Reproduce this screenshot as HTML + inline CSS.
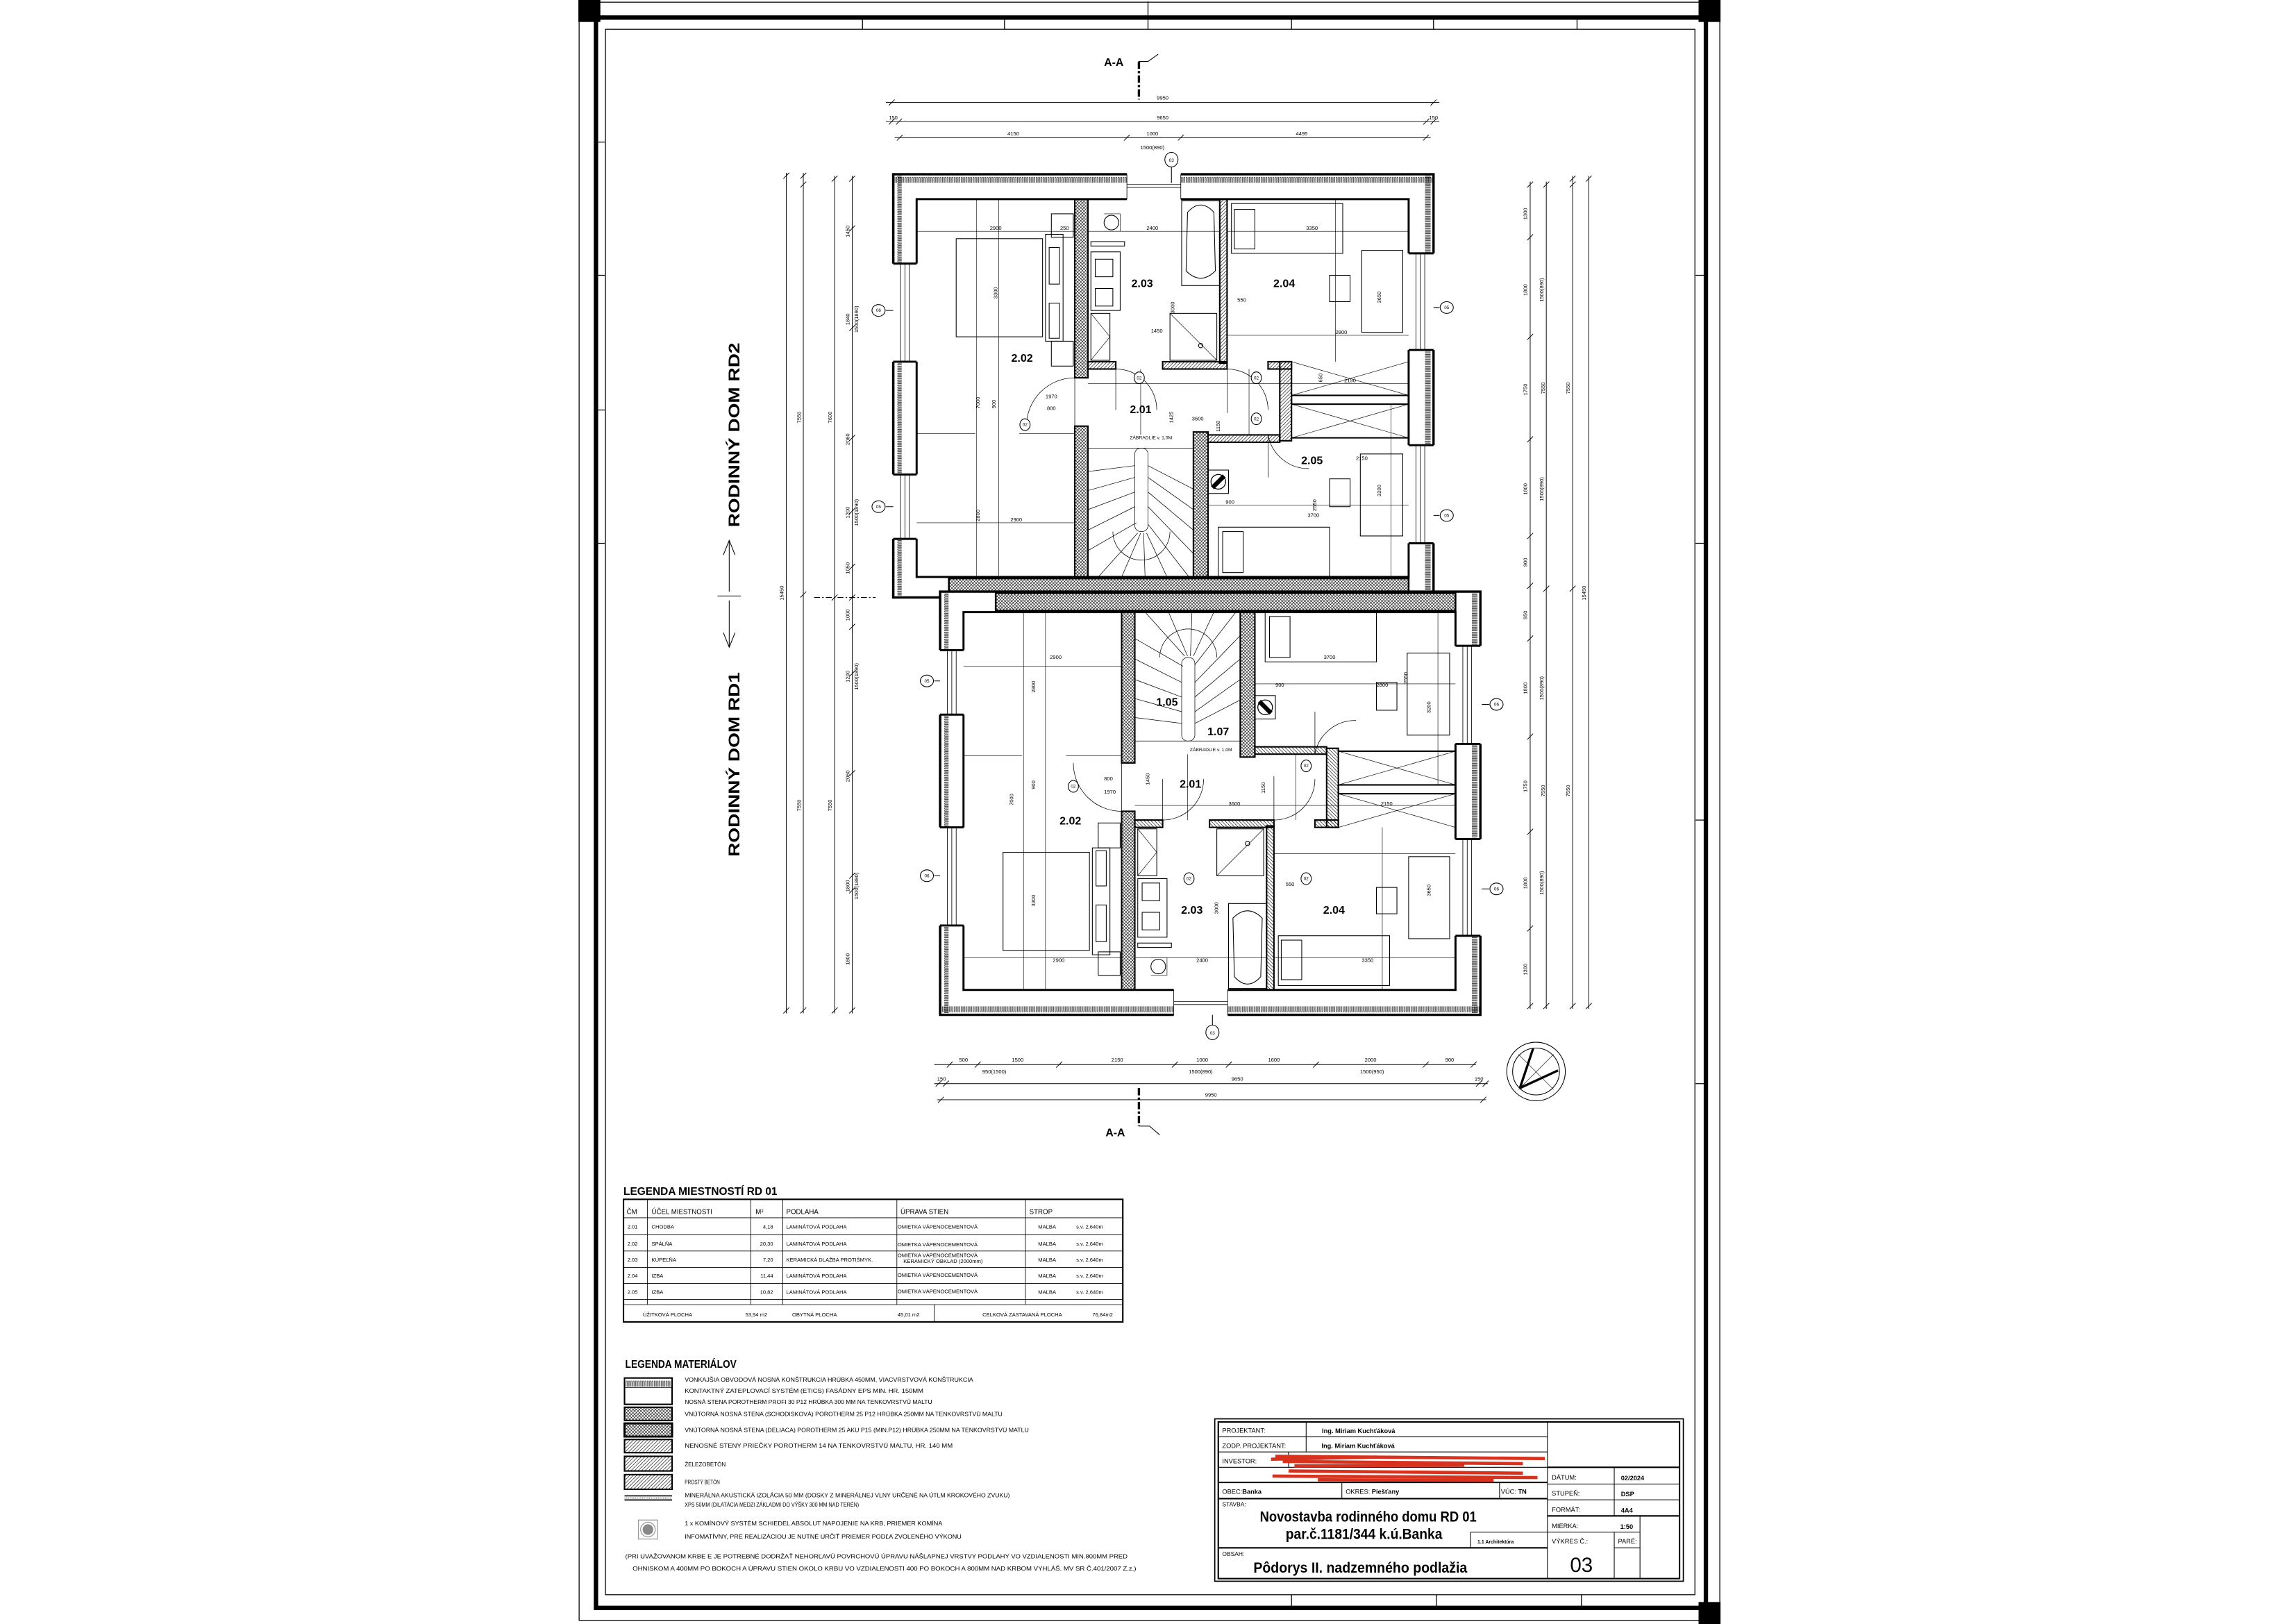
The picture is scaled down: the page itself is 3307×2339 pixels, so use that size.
<!DOCTYPE html>
<html><head><meta charset="utf-8"><style>
html,body{margin:0;padding:0;background:#fff}
svg{display:block}
text{font-family:"Liberation Sans",sans-serif;fill:#000}
.d{font-size:3.6px}
.r{font-size:7.6px;font-weight:bold}
.t{font-size:4.2px}
.tb{font-size:4.6px;font-weight:bold}
</style></head><body>
<svg width="3307" height="2339" viewBox="0 0 1568 1109" preserveAspectRatio="none" xmlns="http://www.w3.org/2000/svg">
<defs>
<pattern id="x" width="2.2" height="2.2" patternUnits="userSpaceOnUse"><path d="M0 0L2.2 2.2M2.2 0L0 2.2" stroke="#000" stroke-width=".3"/></pattern>
<pattern id="dg" width="2.4" height="2.4" patternUnits="userSpaceOnUse"><path d="M0 2.4L2.4 0" stroke="#000" stroke-width=".3"/></pattern>
<pattern id="wh" width="1.6" height="6" patternUnits="userSpaceOnUse"><path d="M.4 5V1.4A.4 .4 0 0 1 1.2 1.4V5" fill="none" stroke="#000" stroke-width=".3"/></pattern>
<pattern id="wv" width="6" height="1.6" patternUnits="userSpaceOnUse"><path d="M5 .4H1.4A.4 .4 0 0 0 1.4 1.2H5" fill="none" stroke="#000" stroke-width=".3"/></pattern>
<g id="p" fill="none" stroke="#000">
 <!-- outer wall -->
 <rect x="610" y="119" width="369" height="289" fill="#fff" stroke-width="1.6"/>
 <rect x="610.8" y="119.8" width="367.4" height="5" fill="url(#wh)" stroke="none"/>
 <rect x="610.8" y="119.8" width="5" height="287" fill="url(#wv)" stroke="none"/>
 <rect x="973.2" y="119.8" width="5" height="287" fill="url(#wv)" stroke="none"/>
 <rect x="626" y="136" width="336" height="258" fill="#fff" stroke-width="1.4"/>
 <!-- windows -->
 <g stroke-width=".4">
  <rect x="609" y="180" width="18" height="67" fill="#fff" stroke="none"/><path d="M615 180V247M618 180V247M621 180V247"/><path d="M610 180H626M610 247H626" stroke-width="1.4"/>
  <rect x="609" y="324" width="18" height="44" fill="#fff" stroke="none"/><path d="M615 324V368M618 324V368M621 324V368"/><path d="M610 324H626M610 368H626" stroke-width="1.4"/>
  <rect x="961" y="173" width="19" height="66" fill="#fff" stroke="none"/><path d="M967 173V239M970 173V239M973 173V239"/><path d="M962 173H979M962 239H979" stroke-width="1.4"/>
  <rect x="961" y="304" width="19" height="67" fill="#fff" stroke="none"/><path d="M967 304V371M970 304V371M973 304V371"/><path d="M962 304H979M962 371H979" stroke-width="1.4"/>
  <rect x="769.6" y="118" width="36.8" height="19" fill="#fff" stroke="none"/><path d="M769.6 126H806.4M769.6 128H806.4M769.6 119V136M806.4 119V136"/>
 </g>
 <!-- hatched walls -->
 <rect x="734" y="136" width="9" height="122" fill="url(#x)" stroke-width="1"/>
 <rect x="734" y="291" width="9" height="103" fill="url(#x)" stroke-width="1"/>
 <rect x="815" y="295" width="10" height="99" fill="url(#x)" stroke-width="1"/>
 <rect x="648" y="395" width="314" height="12" fill="url(#x)" stroke-width="1.2"/>
 <!-- partitions -->
 <g fill="url(#dg)" stroke-width="1">
  <rect x="833" y="136" width="5" height="112"/>
  <rect x="743" y="247" width="19" height="5"/>
  <rect x="794" y="247" width="44" height="5"/>
  <rect x="866" y="247" width="16" height="5"/>
  <rect x="874" y="247" width="8" height="54"/>
  <rect x="825" y="297" width="49" height="5"/>
  <rect x="882" y="270" width="80" height="6" fill="none"/>
 </g>
 <path d="M882 247L962 270M882 270L962 247M882 276L962 299M882 299L962 276" stroke-width=".3"/>
 <path d="M882 299H962" stroke-width="1"/>
 <!-- thin dims inside -->
 <g stroke-width=".3">
  <path d="M667 136V394M682 136V394M626 158H734M626 357H734M743 158H833M838 158H962M626 296H666M696 296H734"/>
  <path d="M779 252V297M825 262H962M743 262H874M853 252V297M825 345H962M838 229H962M912 136V247M950 276V394"/>
 </g>
 <!-- 2.02 bed -->
 <g stroke-width=".5">
  <rect x="653" y="163" width="59" height="67"/><rect x="714" y="160" width="12" height="73"/>
  <rect x="716.5" y="169" width="7" height="25"/><rect x="716.5" y="207" width="7" height="24"/>
  <rect x="718" y="146" width="15" height="16"/><rect x="718" y="233" width="15" height="17"/>
  <!-- 2.03 -->
  <ellipse cx="759" cy="152" rx="5" ry="5"/><path d="M754 146H765V158H754" stroke-width=".3"/>
  <rect x="745" y="172" width="20" height="40"/><rect x="748" y="177" width="12" height="12"/><rect x="748" y="197" width="12" height="12"/>
  <rect x="745" y="165" width="23" height="3"/>
  <rect x="745" y="214" width="13" height="32"/><path d="M745 214L758 230L745 246" stroke-width=".3"/>
  <rect x="807" y="137" width="26" height="58"/><path d="M811 145Q820 135 829 145L830 185Q820 195 810 185Z"/>
  <rect x="799" y="214" width="32" height="32"/><path d="M799 214L831 246" stroke-width=".3"/><circle cx="820" cy="236" r="1.5"/>
  <!-- 2.04 -->
  <rect x="841" y="139" width="76" height="34"/><rect x="843" y="143" width="14" height="27"/>
  <rect x="930" y="171" width="28" height="56"/><rect x="908" y="188" width="14" height="18"/>
  <!-- 2.05 -->
  <rect x="832" y="360" width="76" height="34"/><rect x="835" y="363" width="14" height="28"/>
  <rect x="929" y="310" width="29" height="56"/><rect x="908" y="327" width="14" height="19"/>
  <!-- chimney -->
  <rect x="825" y="321" width="14" height="16"/>
 </g>
 <circle cx="832" cy="329" r="5" stroke-width=".6"/><path d="M828 333L836 325" stroke-width="3"/>
 <!-- stairs -->
 <g stroke-width=".35">
  <rect x="775" y="306" width="9" height="57" rx="4"/>
  <path d="M743 306H815M760 363A19.5 19.5 0 0 0 799 363"/>
  <path d="M743 322L775 318M743 335L775 326M743 348L775 336M743 362L775 346M743 376L776 357M750 394L777 364M766 394L779 364M782 394L781 364M797 394L783 364M812 394L784 358M815 378L784 346M815 362L784 336M815 348L784 326M815 334L784 318"/>
 </g>
 <!-- doors -->
 <g stroke-width=".35">
  <path d="M734 258V291M734 258A33 33 0 0 0 701 291"/>
  <path d="M762 252V280M762 252A28 28 0 0 1 790 280"/>
  <path d="M838 252V282M838 252A28 28 0 0 1 866 280"/>
  <path d="M866 297V326M866 297A28 28 0 0 0 894 320"/>
 </g>
</g>
</defs>

<!-- frame -->
<g fill="none" stroke="#000">
 <rect x="395.5" y="1.5" width="779" height="1105" stroke-width=".6"/>
 <rect x="407" y="12" width="758" height="1086" stroke-width="3"/>
 <rect x="413.5" y="20" width="744" height="1069" stroke-width=".6"/>
 <path d="M589 12V20M686 12V20M784 1V20M882 12V20M979 12V20M1077 12V20M882 1089V1098M981 1089V1098M1080 1089V1098M407 97H413M407 188H413M407 280H413M407 371H413M1158 188H1165M1158 371H1165M1158 560H1165M1158 740H1165" stroke-width=".6"/>
</g>
<rect x="395" y="0" width="15" height="15" fill="#000"/>
<rect x="1160" y="0" width="15" height="15" fill="#000"/>
<rect x="1160" y="1094" width="15" height="15" fill="#000"/>

<!-- plans -->
<use href="#p"/>
<use href="#p" transform="translate(32,812) scale(1,-1)"/>

<!-- room labels -->
<g class="r" text-anchor="middle">
 <text x="780" y="196">2.03</text><text x="877" y="196">2.04</text><text x="698" y="247">2.02</text>
 <text x="779" y="282">2.01</text><text x="896" y="317">2.05</text>
 <text x="797" y="482">1.05</text><text x="832" y="502">1.07</text><text x="813" y="538">2.01</text>
 <text x="731" y="563">2.02</text><text x="814" y="624">2.03</text><text x="911" y="624">2.04</text>
</g>
<!-- interior dim labels -->
<g class="d" text-anchor="middle">
 <text x="680" y="157">2900</text><text x="727" y="157">250</text><text x="787" y="157">2400</text><text x="896" y="157">3350</text>
 <text x="916" y="228">2800</text><text x="848" y="206">550</text><text x="790" y="227">1450</text>
 <text x="694" y="356">2900</text><text x="818" y="287">3600</text><text x="922" y="261">2150</text><text x="897" y="353">3700</text>
 <text x="840" y="344">900</text><text x="718" y="272">1970</text><text x="718" y="280">800</text><text x="930" y="314">2150</text>
 <text x="786" y="300" font-size="3.2">ZÁBRADLIE v. 1,0M</text>
 <text x="721" y="450">2900</text><text x="908" y="450">3700</text><text x="944" y="469">2800</text><text x="874" y="469">900</text>
 <text x="843" y="550">3600</text><text x="947" y="550">2150</text><text x="723" y="657">2900</text><text x="821" y="657">2400</text>
 <text x="934" y="657">3350</text><text x="758" y="542">1970</text><text x="757" y="533">800</text><text x="881" y="605">550</text>
 <text x="827" y="513" font-size="3.2">ZÁBRADLIE v. 1,0M</text>
 <g transform="rotate(-90)">
  <text x="-200" y="681">3300</text><text x="-210" y="802">3000</text><text x="-203" y="943">3650</text>
  <text x="-275" y="669">7000</text><text x="-276" y="680">900</text><text x="-352" y="669">2800</text>
  <text x="-285" y="801">1425</text><text x="-291" y="833">1150</text><text x="-258" y="903">650</text><text x="-345" y="899">2550</text><text x="-335" y="943">3200</text>
  <text x="-546" y="692">7000</text><text x="-469" y="707">2800</text><text x="-536" y="707">900</text><text x="-615" y="707">3300</text>
  <text x="-620" y="832">3000</text><text x="-608" y="977">3650</text><text x="-483" y="977">3200</text><text x="-463" y="961">2550</text>
  <text x="-538" y="864">1150</text><text x="-532" y="785">1450</text>
 </g>
</g>
<!-- axis bubbles -->
<g fill="#fff" stroke="#000" stroke-width=".5">
 <path d="M800 114V125M605 212H610M605 346H610M979 210H983M979 352H983M638 465H642M638 598H642M1012 481H1017M1012 607H1017M828 693V700" fill="none"/>
 <ellipse cx="800" cy="109" rx="4.5" ry="5"/><ellipse cx="600" cy="212" rx="4.5" ry="4"/><ellipse cx="600" cy="346" rx="4.5" ry="4"/>
 <ellipse cx="988" cy="210" rx="4.5" ry="4"/><ellipse cx="988" cy="352" rx="4.5" ry="4"/>
 <ellipse cx="778" cy="258" rx="3.5" ry="4"/><ellipse cx="858" cy="258" rx="3.5" ry="4"/><ellipse cx="858" cy="286" rx="3.5" ry="4"/><ellipse cx="700" cy="290" rx="3.5" ry="4"/>
 <ellipse cx="633" cy="465" rx="4.5" ry="4"/><ellipse cx="633" cy="598" rx="4.5" ry="4"/><ellipse cx="1022" cy="481" rx="4.5" ry="4"/><ellipse cx="1022" cy="607" rx="4.5" ry="4"/>
 <ellipse cx="828" cy="705" rx="4.5" ry="5"/><ellipse cx="733" cy="537" rx="3.5" ry="4"/><ellipse cx="892" cy="523" rx="3.5" ry="4"/><ellipse cx="812" cy="600" rx="3.5" ry="4"/><ellipse cx="892" cy="600" rx="3.5" ry="4"/>
</g>
<g font-size="3" text-anchor="middle">
 <text x="800" y="110.5">03</text><text x="600" y="213">06</text><text x="600" y="347">05</text><text x="988" y="211">05</text><text x="988" y="353">05</text>
 <text x="778" y="259">02</text><text x="858" y="259">02</text><text x="858" y="287">02</text><text x="700" y="291">02</text>
 <text x="633" y="466">05</text><text x="633" y="599">06</text><text x="1022" y="482">06</text><text x="1022" y="608">06</text>
 <text x="828" y="706.5">03</text><text x="733" y="538">02</text><text x="892" y="524">02</text><text x="812" y="601">02</text><text x="892" y="601">02</text>
</g>

<!-- top dimensions -->
<g stroke="#000" stroke-width=".45" fill="none">
 <path d="M605 70H983M605 83H983M611 94H977"/>
 <path d="M607 72L611 68M977 72L981 68M607 85L611 81M612 85L616 81M972 85L976 81M977 85L981 81M612.5 96L616.5 92M767.6 96L771.6 92M804.4 96L808.4 92M971.8 96L975.8 92"/>
 <path d="M638 727H1008M638 740H1016M640 751H1015"/>
 <path d="M646.6 729L650.6 725M665.7 729L669.7 725M721.3 729L725.3 725M800.3 729L804.3 725M837.2 729L841.2 725M896.7 729L900.7 725M971.7 729L975.7 725M1004.4 729L1008.4 725M639 742L643 738M644 742L648 738M1008 742L1012 738M1012.6 742L1016.6 738M640.6 753L644.6 749M1011 753L1015 749"/>
 <!-- left vertical dims -->
 <path d="M537 118V692M548.6 118V692M570 120V692M582 120V692"/>
 <path d="M535 122L539 118M535 692L539 688M546.6 122L550.6 118M546.6 128L550.6 124M546.6 408L550.6 404M546.6 692L550.6 688M568 124L572 120M568 410L572 406M568 692L572 688M580 124L584 120M580 158L584 154M580 226L584 222M580 301L584 297M580 351L584 347M580 389L584 385M580 410L584 406M580 430L584 426M580 462L584 458M580 530L584 526M580 600L584 596M580 610L584 606M580 692L584 688"/>
 <path d="M556 408H598" stroke-dasharray="4 1.5 1 1.5"/>
 <!-- right vertical dims -->
 <path d="M1045 124V689M1056 124V689M1074 120V689M1085 120V689"/>
 <path d="M1043 128L1047 124M1043 164L1047 160M1043 232L1047 228M1043 302L1047 298M1043 368L1047 364M1043 402L1047 398M1043 438L1047 434M1043 505L1047 501M1043 570L1047 566M1043 636L1047 632M1043 689L1047 685M1054 128L1058 124M1054 404L1058 400M1054 689L1058 685M1072 124L1076 120M1072 128L1076 124M1072 404L1076 400M1072 689L1076 685M1083 124L1087 120M1083 689L1087 685"/>
</g>
<g class="d" text-anchor="middle">
 <text x="794" y="68">9950</text><text x="610" y="81.5">150</text><text x="794" y="81.5">9650</text><text x="979" y="81.5">150</text>
 <text x="692" y="92.5">4150</text><text x="787" y="92.5">1000</text><text x="889" y="92.5">4495</text><text x="787" y="102">1500(890)</text>
 <text x="658" y="725">500</text><text x="695" y="725">1500</text><text x="763" y="725">2150</text><text x="821" y="725">1000</text><text x="870" y="725">1600</text><text x="936" y="725">2000</text><text x="990" y="725">900</text>
 <text x="679" y="733">950(1500)</text><text x="820" y="733">1500(890)</text><text x="937" y="733">1500(950)</text><text x="845" y="738">9650</text>
 <text x="643" y="738">150</text><text x="1010" y="738">150</text><text x="827" y="749">9950</text>
 <g transform="rotate(-90)">
  <text x="-405" y="535">15450</text><text x="-285" y="547">7550</text><text x="-550" y="547">7550</text><text x="-285" y="568">7600</text><text x="-550" y="568">7550</text>
  <text x="-158" y="580">1450</text><text x="-218" y="580">1840</text><text x="-218" y="586">1500(1890)</text><text x="-300" y="580">2060</text><text x="-350" y="580">1200</text><text x="-350" y="586">1500(1890)</text><text x="-388" y="580">1050</text>
  <text x="-420" y="580">1000</text><text x="-462" y="580">1200</text><text x="-462" y="586">1500(1890)</text><text x="-530" y="580">2060</text><text x="-605" y="580">1800</text><text x="-605" y="586">1500(1890)</text><text x="-655" y="580">1800</text>
  <text x="-146" y="1043">1300</text><text x="-198" y="1043">1800</text><text x="-198" y="1054">1500(890)</text><text x="-266" y="1043">1750</text><text x="-334" y="1043">1800</text><text x="-334" y="1054">1500(890)</text><text x="-384" y="1043">900</text>
  <text x="-420" y="1043">950</text><text x="-470" y="1043">1800</text><text x="-470" y="1054">1500(890)</text><text x="-537" y="1043">1750</text><text x="-603" y="1043">1800</text><text x="-603" y="1054">1500(890)</text><text x="-662" y="1043">1300</text>
  <text x="-265" y="1055">7550</text><text x="-540" y="1055">7550</text><text x="-265" y="1072">7550</text><text x="-540" y="1072">7550</text><text x="-405" y="1083">15450</text>
 </g>
</g>

<!-- section marks -->
<g stroke="#000" fill="none">
 <path d="M777.8 42V68" stroke-width="1.6" stroke-dasharray="5 1.5 1.5 1.5"/><path d="M777.8 42H784L791 37" stroke-width=".5"/>
 <path d="M777.8 743V769" stroke-width="1.6" stroke-dasharray="5 1.5 1.5 1.5"/><path d="M777.8 769H785L792 775" stroke-width=".5"/>
</g>
<text x="754" y="45" font-size="7.5" font-weight="bold">A-A</text>
<text x="755" y="776" font-size="7.5" font-weight="bold">A-A</text>

<!-- side titles -->
<text transform="translate(505,360) rotate(-90)" font-size="10.5" font-weight="bold" textLength="126" lengthAdjust="spacingAndGlyphs">RODINNÝ DOM RD2</text>
<text transform="translate(505,585) rotate(-90)" font-size="10.5" font-weight="bold" textLength="126" lengthAdjust="spacingAndGlyphs">RODINNÝ DOM RD1</text>
<g stroke="#000" stroke-width=".5" fill="none">
 <path d="M498 369V404M494 379L498 369L502 379M498 410V442M494 432L498 442L502 432M490 407H506"/>
</g>

<!-- compass -->
<g stroke="#000" fill="none">
 <circle cx="1049" cy="731.7" r="20" stroke-width=".5"/><circle cx="1049" cy="731.7" r="16" stroke-width=".5"/>
 <path d="M1037 720L1061 744M1061 720L1037 744" stroke-width=".3"/>
 <path d="M1038 743L1047 716M1038 743L1064 731" stroke-width="1.6"/>
</g>

<!-- room legend -->
<text x="425.8" y="816" font-size="7.4" font-weight="bold" textLength="105" lengthAdjust="spacingAndGlyphs">LEGENDA MIESTNOSTÍ RD 01</text>
<g stroke="#000" fill="none">
 <rect x="425.8" y="819" width="341" height="83.7" stroke-width="1"/>
 <path d="M442.2 819V890.9M512.8 819V890.9M534.6 819V890.9M612.5 819V890.9M700.3 819V890.9M638 890.9V902.7" stroke-width=".4"/>
 <path d="M425.8 831.6H766.8M425.8 843.2H766.8M425.8 854.3H766.8M425.8 865.5H766.8M425.8 876.4H766.8M425.8 887.3H766.8M425.8 890.9H766.8" stroke-width=".4"/>
</g>
<g font-size="4.6">
 <text x="428" y="829">ČM</text><text x="445" y="829">ÚČEL  MIESTNOSTI</text><text x="516" y="829">M²</text><text x="537" y="829">PODLAHA</text><text x="615" y="829">ÚPRAVA  STIEN</text><text x="703" y="829">STROP</text>
</g>
<g font-size="3.6">
 <text x="428.5" y="839">2.01</text><text x="445" y="839">CHODBA</text><text x="528" y="839" text-anchor="end">4,18</text><text x="537" y="839">LAMINÁTOVÁ PODLAHA</text><text x="613" y="839">OMIETKA VÁPENOCEMENTOVÁ</text><text x="709" y="839">MAĽBA</text><text x="735" y="839">s.v. 2,640m</text>
 <text x="428.5" y="850.5">2.02</text><text x="445" y="850.5">SPÁLŇA</text><text x="528" y="850.5" text-anchor="end">20,30</text><text x="537" y="850.5">LAMINÁTOVÁ PODLAHA</text><text x="613" y="851">OMIETKA VÁPENOCEMENTOVÁ</text><text x="709" y="850.5">MAĽBA</text><text x="735" y="850.5">s.v. 2,640m</text>
 <text x="428.5" y="861.5">2.03</text><text x="445" y="861.5">KÚPEĽŇA</text><text x="528" y="861.5" text-anchor="end">7,20</text><text x="537" y="861.5">KERAMICKÁ DLAŽBA PROTIŠMYK.</text><text x="613" y="858.5">OMIETKA VÁPENOCEMENTOVÁ</text><text x="617" y="862.5">KERAMICKÝ OBKLAD (2000mm)</text><text x="709" y="861.5">MAĽBA</text><text x="735" y="861.5">s.v. 2,640m</text>
 <text x="428.5" y="872.5">2.04</text><text x="445" y="872.5">IZBA</text><text x="528" y="872.5" text-anchor="end">11,44</text><text x="537" y="872.5">LAMINÁTOVÁ PODLAHA</text><text x="613" y="872">OMIETKA VÁPENOCEMENTOVÁ</text><text x="709" y="872.5">MAĽBA</text><text x="735" y="872.5">s.v. 2,640m</text>
 <text x="428.5" y="883.5">2.05</text><text x="445" y="883.5">IZBA</text><text x="528" y="883.5" text-anchor="end">10,82</text><text x="537" y="883.5">LAMINÁTOVÁ PODLAHA</text><text x="613" y="883">OMIETKA VÁPENOCEMENTOVÁ</text><text x="709" y="883.5">MAĽBA</text><text x="735" y="883.5">s.v. 2,640m</text>
 <text x="439" y="899">ÚŽITKOVÁ PLOCHA</text><text x="509" y="899">53,94 m2</text><text x="541" y="899">OBYTNÁ PLOCHA</text><text x="613" y="899">45,01 m2</text><text x="671" y="899">CELKOVÁ ZASTAVANÁ PLOCHA</text><text x="746" y="899">76,84m2</text>
</g>

<!-- materials legend -->
<text x="427" y="934" font-size="7.4" font-weight="bold" textLength="76" lengthAdjust="spacingAndGlyphs">LEGENDA MATERIÁLOV</text>
<g stroke="#000" fill="none">
 <rect x="426.5" y="941" width="32.5" height="18" stroke-width="1"/><rect x="427.5" y="942" width="30.5" height="5" fill="url(#wh)" stroke="none"/><path d="M426.5 947.5H459" stroke-width=".4"/>
 <rect x="426.5" y="961" width="32.5" height="9" fill="url(#x)" stroke-width="1"/>
 <rect x="426.5" y="972" width="32.5" height="9" fill="url(#x)" stroke-width="1.4"/>
 <rect x="426.5" y="983" width="32.5" height="9" fill="url(#dg)" stroke-width="1"/>
 <rect x="426.5" y="994.5" width="32.5" height="10" fill="url(#dg)" stroke-width="1"/>
 <rect x="426.5" y="1007" width="32.5" height="10" fill="url(#dg)" stroke-width="1"/>
 <path d="M426.5 1021.5H459M426.5 1024.3H459" stroke-width=".8"/><path d="M426.5 1023H459" stroke-width=".5" stroke-dasharray=".6 .6"/>
 <rect x="436" y="1038" width="13" height="13" stroke="#999" stroke-width=".6"/><circle cx="442.5" cy="1044.5" r="5" stroke="#999" stroke-width=".6"/><circle cx="442.5" cy="1044.5" r="3.6" fill="#888" stroke="none"/>
</g>
<g font-size="3.8">
 <text x="467.6" y="943.5" textLength="197" lengthAdjust="spacingAndGlyphs">VONKAJŠIA OBVODOVÁ NOSNÁ KONŠTRUKCIA HRÚBKA 450MM, VIACVRSTVOVÁ KONŠTRUKCIA</text>
 <text x="467.6" y="951" textLength="163" lengthAdjust="spacingAndGlyphs">KONTAKTNÝ ZATEPLOVACÍ SYSTÉM (ETICS) FASÁDNY EPS MIN. HR. 150MM</text>
 <text x="467.6" y="958.6" textLength="169" lengthAdjust="spacingAndGlyphs">NOSNÁ STENA POROTHERM PROFI 30 P12 HRÚBKA 300 MM NA TENKOVRSTVÚ  MALTU</text>
 <text x="467.6" y="967" textLength="217" lengthAdjust="spacingAndGlyphs">VNÚTORNÁ NOSNÁ STENA (SCHODISKOVÁ) POROTHERM 25 P12  HRÚBKA 250MM NA TENKOVRSTVÚ  MALTU</text>
 <text x="467.6" y="978" textLength="235" lengthAdjust="spacingAndGlyphs">VNÚTORNÁ NOSNÁ STENA (DELIACA) POROTHERM 25 AKU P15 (MIN.P12) HRÚBKA 250MM NA TENKOVRSTVÚ  MATLU</text>
 <text x="467.6" y="988.5" textLength="183" lengthAdjust="spacingAndGlyphs">NENOSNÉ STENY PRIEČKY POROTHERM  14  NA TENKOVRSTVÚ MALTU, HR. 140  MM</text>
 <text x="467.6" y="1001.3" textLength="28" lengthAdjust="spacingAndGlyphs">ŽELEZOBETÓN</text>
 <text x="467.6" y="1013.4" textLength="24" lengthAdjust="spacingAndGlyphs">PROSTÝ BETÓN</text>
 <text x="467.6" y="1022.5" textLength="222" lengthAdjust="spacingAndGlyphs">MINERÁLNA AKUSTICKÁ IZOLÁCIA 50 MM (DOSKY Z MINERÁLNEJ VLNY URČENÉ NA ÚTLM KROKOVÉHO ZVUKU)</text>
 <text x="467.6" y="1028.8" textLength="119" lengthAdjust="spacingAndGlyphs">XPS 50MM (DILATÁCIA MEDZI ZÁKLADMI DO VÝŠKY 300 MM NAD TERÉN)</text>
 <text x="467.6" y="1041.7" textLength="176" lengthAdjust="spacingAndGlyphs">1 x KOMÍNOVÝ SYSTÉM SCHIEDEL ABSOLUT NAPOJENIE NA KRB, PRIEMER KOMÍNA</text>
 <text x="467.6" y="1050.6" textLength="189" lengthAdjust="spacingAndGlyphs">INFOMATÍVNY, PRE REALIZÁCIOU JE NUTNÉ URČIŤ PRIEMER PODĽA ZVOLENÉHO VÝKONU</text>
 <text x="427" y="1064.2" textLength="343" lengthAdjust="spacingAndGlyphs">(PRI UVAŽOVANOM KRBE E JE POTREBNÉ  DODRŽAŤ NEHORĽAVÚ POVRCHOVÚ ÚPRAVU  NÁŠLAPNEJ VRSTVY PODLAHY  VO VZDIALENOSTI  MIN.800MM PRED</text>
 <text x="432" y="1072.4" textLength="344" lengthAdjust="spacingAndGlyphs">OHNISKOM A 400MM PO BOKOCH A ÚPRAVU STIEN OKOLO KRBU VO VZDIALENOSTI 400 PO BOKOCH A 800MM NAD KRBOM VYHLÁŠ. MV SR Č.401/2007 Z.z.)</text>
</g>

<!-- title block -->
<g stroke="#000" fill="none">
 <rect x="829.6" y="968.9" width="320" height="110.9" stroke-width=".8"/>
 <rect x="832" y="971" width="315" height="107" stroke-width="1"/>
 <path d="M1056.8 971V1078M832 981.2H1056.8M832 991.5H1056.8M832 1002H1147M832 1012.3H1056.8M832 1023.4H1056.8M832 1057H1056.8M892 971V991.5M880 991.5V1002M916.4 1012.3V1023.4M1024.1 1012.3V1023.4M1004.3 1046.3V1057M1004.3 1046.3H1056.8M1056.8 1013.4H1147M1056.8 1024.2H1147M1056.8 1035.2H1147M1102.4 1002V1035.2M1056.8 1046.3H1120M1120 1035.2V1046.3M1102.4 1046.3V1078M1102.4 1057H1120M1120 1046.3V1078" stroke-width=".5"/>
 <path d="M1056.8 1002H1147M832 1012.3H1056.8M832 1023.4H1056.8M832 1057H1056.8M1056.8 1035.2H1147" stroke-width="1"/>
</g>
<g stroke="#d8321e" stroke-width="2.2" fill="none">
 <path d="M871 994.5L1055 996M876 998L1040 999.5M868 996.5L940 995M884 1001L1000 1000.5"/>
 <path d="M880 1004.5L1040 1006M869 1008L1050 1009M900 1010.5L1020 1011"/>
</g>
<g font-size="4.4">
 <text x="834.7" y="978.4">PROJEKTANT:</text><text x="834.7" y="988.7">ZODP.  PROJEKTANT:</text><text x="834.7" y="999.3">INVESTOR:</text>
 <text x="834.7" y="1020.2">OBEC:<tspan font-weight="bold">Banka</tspan></text><text x="919" y="1020.2">OKRES: <tspan font-weight="bold">Piešťany</tspan></text><text x="1025" y="1020.2">VÚC: <tspan font-weight="bold">TN</tspan></text>
 <text x="834.7" y="1028.6" font-size="4">STAVBA:</text><text x="834.7" y="1062.6" font-size="4">OBSAH:</text>
 <text x="1059.8" y="1010.5">DÁTUM:</text><text x="1059.8" y="1021.3">STUPEŇ:</text><text x="1059.8" y="1032.5">FORMÁT:</text><text x="1059.8" y="1043.5">MIERKA:</text><text x="1059.8" y="1054">VÝKRES  Č.:</text><text x="1105" y="1054">PARÉ:</text>
</g>
<g font-weight="bold" font-size="4.4">
 <text x="902.8" y="978.6">Ing. Miriam Kuchťáková</text><text x="902.5" y="988.9">Ing. Miriam Kuchťáková</text>
 <text x="1107" y="1010.8">02/2024</text><text x="1107" y="1021.8">DSP</text><text x="1107" y="1033">4A4</text><text x="1106.5" y="1044">1:50</text>
 <text x="1009" y="1054" font-size="3.3">1.1 Architektúra</text>
</g>
<text x="934.4" y="1039" font-size="10" font-weight="bold" text-anchor="middle" textLength="148" lengthAdjust="spacingAndGlyphs">Novostavba rodinného domu RD 01</text>
<text x="931.5" y="1051" font-size="10" font-weight="bold" text-anchor="middle" textLength="107" lengthAdjust="spacingAndGlyphs">par.č.1181/344  k.ú.Banka</text>
<text x="856" y="1074" font-size="10" font-weight="bold" textLength="146" lengthAdjust="spacingAndGlyphs">Pôdorys II. nadzemného podlažia</text>
<text x="1080" y="1073.5" font-size="14" text-anchor="middle">03</text>
</svg>
</body></html>
